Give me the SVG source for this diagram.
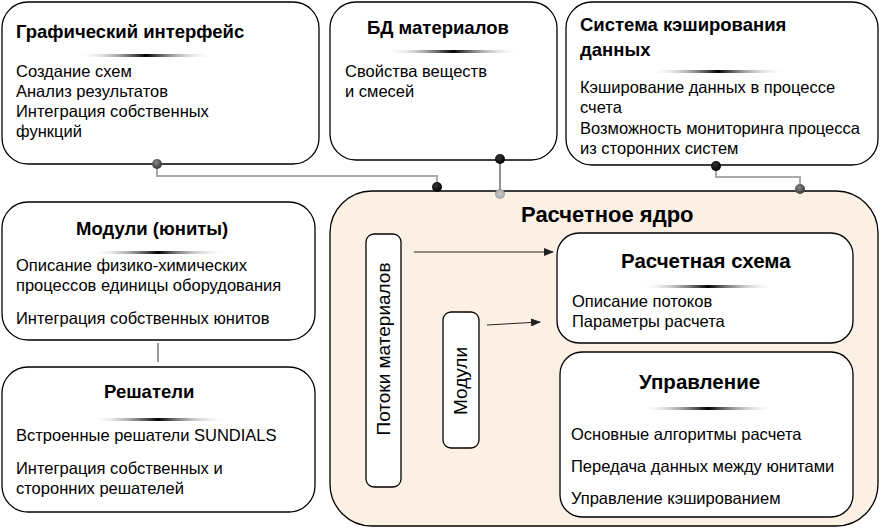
<svg xmlns="http://www.w3.org/2000/svg" width="886" height="528" viewBox="0 0 886 528">
<defs>
<linearGradient id="dv" x1="0" x2="1" y1="0" y2="0"><stop offset="0" stop-color="#fff" stop-opacity="0"/><stop offset="0.5" stop-color="#000"/><stop offset="1" stop-color="#fff" stop-opacity="0"/></linearGradient>
<radialGradient id="gd" cx="0.4" cy="0.35" r="0.7"><stop offset="0" stop-color="#888"/><stop offset="1" stop-color="#333"/></radialGradient>
<radialGradient id="bd" cx="0.4" cy="0.35" r="0.7"><stop offset="0" stop-color="#333"/><stop offset="1" stop-color="#000"/></radialGradient>
<radialGradient id="ld" cx="0.5" cy="0.5" r="0.6"><stop offset="0" stop-color="#ccc"/><stop offset="1" stop-color="#999"/></radialGradient>
<marker id="ar" markerWidth="10" markerHeight="8" refX="9" refY="4" orient="auto" markerUnits="userSpaceOnUse"><path d="M0,0 L10,4 L0,8 z" fill="#222"/></marker>
</defs>
<style>
.b{fill:#fff;stroke:#000;stroke-width:1.3}
.t{font-family:"Liberation Sans",Arial,sans-serif;font-weight:bold;font-size:18.5px;fill:#000}
.t2{font-family:"Liberation Sans",Arial,sans-serif;font-weight:bold;font-size:20.5px;fill:#000}
.x{font-family:"Liberation Sans",Arial,sans-serif;font-size:16.5px;fill:#000}
.v{font-family:"Liberation Sans",Arial,sans-serif;font-size:19px;fill:#000}
.c{fill:none;stroke:#aaa;stroke-width:2}
</style>
<g id="gui"><rect class="b" x="2" y="2" width="317" height="162" rx="26"/><text class="t" x="16" y="38">Графический интерфейс</text><rect x="78" y="54" width="136" height="3" fill="url(#dv)"/><text class="x" x="16" y="77">Создание схем</text><text class="x" x="16" y="97">Анализ результатов</text><text class="x" x="16" y="117">Интеграция собственных</text><text class="x" x="16" y="137">функций</text></g>
<g id="bdm"><rect class="b" x="330" y="2" width="227" height="158" rx="26"/><text class="t" x="367" y="34">БД материалов</text><rect x="385" y="50" width="136" height="3" fill="url(#dv)"/><text class="x" x="345" y="77">Свойства веществ</text><text class="x" x="345" y="97">и смесей</text></g>
<g id="cache"><rect class="b" x="566" y="2" width="312" height="163" rx="26"/><text class="t" x="580" y="31">Система кэширования</text><text class="t" x="580" y="56">данных</text><rect x="650" y="70" width="136" height="3" fill="url(#dv)"/><text class="x" x="580" y="93">Кэширование данных в процессе</text><text class="x" x="580" y="113">счета</text><text class="x" x="580" y="134">Возможность мониторинга процесса</text><text class="x" x="580" y="154">из сторонних систем</text></g>
<g id="modules"><rect class="b" x="2" y="202" width="313" height="138" rx="26"/><text class="t" x="76" y="235">Модули (юниты)</text><rect x="90" y="251" width="136" height="3" fill="url(#dv)"/><text class="x" x="16" y="271">Описание физико-химических</text><text class="x" x="16" y="291">процессов единицы оборудования</text><text class="x" x="16" y="324">Интеграция собственных юнитов</text></g>
<g id="solvers"><rect class="b" x="2" y="367" width="313" height="145" rx="26"/><text class="t" x="104" y="398">Решатели</text><rect x="90" y="418" width="136" height="3" fill="url(#dv)"/><text class="x" x="16" y="441">Встроенные решатели SUNDIALS</text><text class="x" x="16" y="474">Интеграция собственных и</text><text class="x" x="16" y="494">сторонних решателей</text></g>
<g id="core"><rect x="330" y="191" width="548" height="335" rx="42" fill="#fcefe4" stroke="#000" stroke-width="1.3"/><text class="t2" x="521" y="222" style="font-size:22px">Расчетное ядро</text>
<g id="flows"><rect class="b" x="366" y="234" width="35" height="253" rx="8"/><text class="v" transform="translate(390,349) rotate(-90)" text-anchor="middle">Потоки материалов</text></g>
<g id="mods"><rect class="b" x="443" y="312" width="36" height="136" rx="8"/><text class="v" transform="translate(467,381) rotate(-90)" text-anchor="middle">Модули</text></g>
<g id="scheme"><rect class="b" x="557" y="233" width="296" height="110" rx="22"/><text class="t2" x="621" y="268">Расчетная схема</text><rect x="640" y="285" width="136" height="3" fill="url(#dv)"/><text class="x" x="572" y="307">Описание потоков</text><text class="x" x="572" y="327">Параметры расчета</text></g>
<g id="control"><rect class="b" x="560" y="352" width="293" height="165" rx="22"/><text class="t2" x="639" y="389">Управление</text><rect x="640" y="407" width="136" height="3" fill="url(#dv)"/><text class="x" x="571" y="440">Основные алгоритмы расчета</text><text class="x" x="571" y="472">Передача данных между юнитами</text><text class="x" x="571" y="504">Управление кэшированием</text></g>
</g>
<g id="connectors">
<polyline class="c" points="157,164 157,176 437,176 437,187"/>
<line x1="500" y1="160" x2="500" y2="193" stroke="#555" stroke-width="1.3"/>
<polyline class="c" points="716,165 716,177 800,177 800,189" stroke="#888"/>
<line x1="158" y1="343" x2="158" y2="362" stroke="#333" stroke-width="1"/>
<line x1="414" y1="252" x2="553" y2="252" stroke="#222" stroke-width="1" marker-end="url(#ar)"/>
<line x1="487" y1="325" x2="540" y2="322" stroke="#222" stroke-width="1" marker-end="url(#ar)"/>
<circle cx="157" cy="164" r="5" fill="url(#gd)"/>
<circle cx="437" cy="187" r="5" fill="url(#bd)"/>
<circle cx="500" cy="159" r="5" fill="url(#bd)"/>
<circle cx="500" cy="194" r="5" fill="url(#ld)"/>
<circle cx="716" cy="166" r="5" fill="url(#bd)"/>
<circle cx="800" cy="189" r="5" fill="url(#gd)"/>
</g>
</svg>
